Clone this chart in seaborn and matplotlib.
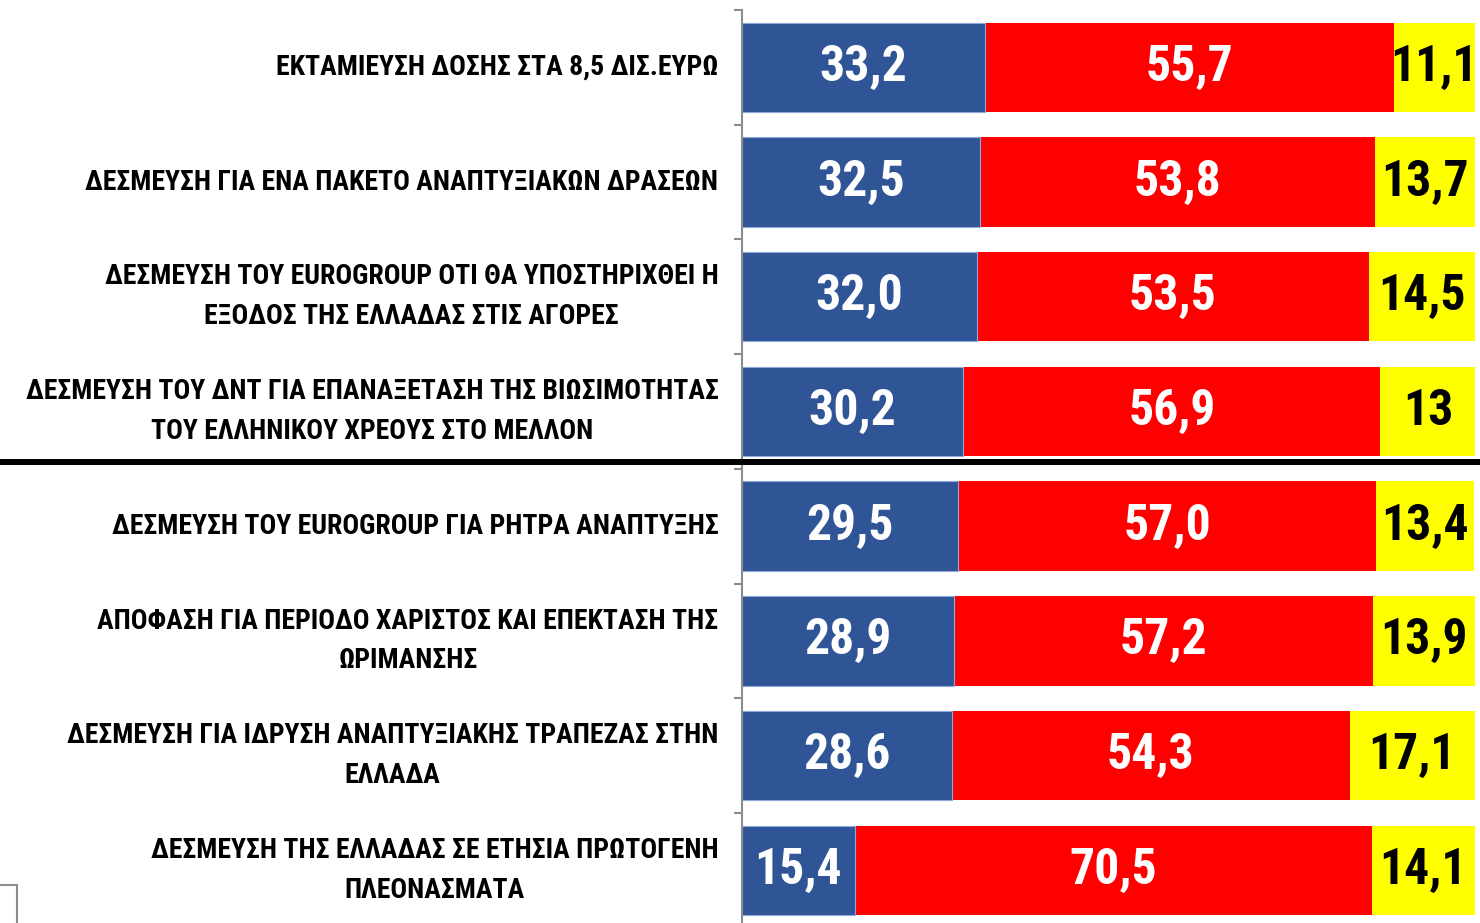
import matplotlib
matplotlib.use("Agg")
import matplotlib.pyplot as plt
import seaborn as sns
import numpy as np
from matplotlib.lines import Line2D
from matplotlib.patches import Rectangle
import matplotlib.transforms as mtransforms
from matplotlib import font_manager as fm

categories = [
    "ΕΚΤΑΜΙΕΥΣΗ ΔΟΣΗΣ ΣΤΑ 8,5 ΔΙΣ.ΕΥΡΩ",
    "ΔΕΣΜΕΥΣΗ ΓΙΑ ΕΝΑ ΠΑΚΕΤΟ ΑΝΑΠΤΥΞΙΑΚΩΝ ΔΡΑΣΕΩΝ",
    "ΔΕΣΜΕΥΣΗ ΤΟΥ EUROGROUP ΟΤΙ ΘΑ ΥΠΟΣΤΗΡΙΧΘΕΙ Η\nΕΞΟΔΟΣ ΤΗΣ ΕΛΛΑΔΑΣ ΣΤΙΣ ΑΓΟΡΕΣ",
    "ΔΕΣΜΕΥΣΗ ΤΟΥ ΔΝΤ ΓΙΑ ΕΠΑΝΑΞΕΤΑΣΗ ΤΗΣ ΒΙΩΣΙΜΟΤΗΤΑΣ\nΤΟΥ ΕΛΛΗΝΙΚΟΥ ΧΡΕΟΥΣ ΣΤΟ ΜΕΛΛΟΝ",
    "ΔΕΣΜΕΥΣΗ ΤΟΥ EUROGROUP ΓΙΑ ΡΗΤΡΑ ΑΝΑΠΤΥΞΗΣ",
    "ΑΠΟΦΑΣΗ ΓΙΑ ΠΕΡΙΟΔΟ ΧΑΡΙΣΤΟΣ ΚΑΙ ΕΠΕΚΤΑΣΗ ΤΗΣ\nΩΡΙΜΑΝΣΗΣ",
    "ΔΕΣΜΕΥΣΗ ΓΙΑ ΙΔΡΥΣΗ ΑΝΑΠΤΥΞΙΑΚΗΣ ΤΡΑΠΕΖΑΣ ΣΤΗΝ\nΕΛΛΑΔΑ",
    "ΔΕΣΜΕΥΣΗ ΤΗΣ ΕΛΛΑΔΑΣ ΣΕ ΕΤΗΣΙΑ ΠΡΩΤΟΓΕΝΗ\nΠΛΕΟΝΑΣΜΑΤΑ",
]
blue_vals = [33.2, 32.5, 32.0, 30.2, 29.5, 28.9, 28.6, 15.4]
red_vals = [55.7, 53.8, 53.5, 56.9, 57.0, 57.2, 54.3, 70.5]
yellow_vals = [11.1, 13.7, 14.5, 13, 13.4, 13.9, 17.1, 14.1]

BLUE = "#2F5597"
RED = "#FF0000"
YELLOW = "#FFFF00"

# pick the narrowest available bold sans font
names = {f.name for f in fm.fontManager.ttflist}
stretch = "normal"
FONT = None
for cand in ["Liberation Sans Narrow", "Roboto Condensed", "Open Sans Condensed",
             "Noto Sans Condensed"]:
    if cand in names:
        FONT = [cand, "DejaVu Sans"]
        break
if FONT is None:
    cond = [f for f in fm.fontManager.ttflist
            if f.name in ("DejaVu Sans", "Noto Sans", "Open Sans")
            and str(f.stretch) in ("condensed", "semi-condensed", "500", "400", "300")]
    if cond:
        FONT = [cond[0].name, "DejaVu Sans"]
        stretch = "condensed"
    else:
        FONT = ["Liberation Sans", "DejaVu Sans"]

sns.set_style("white")
plt.rcParams["font.family"] = FONT
plt.rcParams["font.stretch"] = stretch

W, H = 1480, 923
fig = plt.figure(figsize=(W / 100, H / 100), dpi=100)
top_px, cat_px = 10, 114.7
ax = fig.add_axes([742 / W, (H - top_px - 8 * cat_px) / H, 733 / W, 8 * cat_px / H])

# size text to match the reference widths
fig.canvas.draw()
rend = fig.canvas.get_renderer()
probe = fig.text(0, 0, "ΔΕΣΜΕΥΣΗ ΤΟΥ ΔΝΤ ΓΙΑ ΕΠΑΝΑΞΕΤΑΣΗ ΤΗΣ ΒΙΩΣΙΜΟΤΗΤΑΣ",
                 fontsize=20, fontweight="bold", family=FONT, stretch=stretch)
lab_fs = 20 * 703 / probe.get_window_extent(rend).width
probe.set_text("56,9")
val_fs = 20 * 88 / probe.get_window_extent(rend).width
probe.remove()
lab_fs = min(lab_fs, 20)
val_fs = min(val_fs, 40)

blue = np.array(blue_vals, dtype=float)
red = np.array(red_vals, dtype=float)
yellow = np.array(yellow_vals, dtype=float)
tot_red = blue + red
tot_all = tot_red + yellow

bw = 0.78
sns.barplot(x=tot_all, y=categories, color=YELLOW, saturation=1, width=bw,
            orient="h", ax=ax, linewidth=0)
sns.barplot(x=tot_red, y=categories, color=RED, saturation=1, width=bw,
            orient="h", ax=ax, linewidth=0)
sns.barplot(x=blue, y=categories, color=BLUE, saturation=1, width=bw,
            orient="h", ax=ax, linewidth=0.8, edgecolor="#8FAADC")

def fmt(v):
    return str(v).replace(".", ",")

kw = dict(ha="center", va="center", fontsize=val_fs, fontweight="bold",
          family=FONT, stretch=stretch)
for i in range(len(categories)):
    ax.text(blue_vals[i] / 2, i, fmt(blue_vals[i]), color="white", **kw)
    ax.text(blue[i] + red_vals[i] / 2, i, fmt(red_vals[i]), color="white", **kw)
    ax.text(tot_red[i] + yellow_vals[i] / 2, i, fmt(yellow_vals[i]), color="black", **kw)

ax.set_xlim(0, 100)
ax.set_ylim(7.5, -0.5)
ax.set_xlabel("")
ax.set_ylabel("")
ax.set_xticks([])
ax.set_yticks(range(len(categories)))
ax.set_yticklabels(categories, fontsize=lab_fs, fontweight="bold", family=FONT,
                   stretch=stretch, color="black")
for t in ax.get_yticklabels():
    t.set_multialignment("center")
    t.set_linespacing(1.6)
    t.set_va("center")
ax.set_yticks(np.arange(-0.5, len(categories), 1), minor=True)
ax.tick_params(axis="y", which="major", left=False, length=0, pad=17)
ax.tick_params(axis="y", which="minor", left=True, length=6, width=1.5,
               color="#8C8C8C", direction="out")
for s in ["top", "right", "bottom"]:
    ax.spines[s].set_visible(False)
ax.spines["left"].set_color("#8C8C8C")
ax.spines["left"].set_linewidth(1.5)

trans = mtransforms.blended_transform_factory(fig.transFigure, ax.transData)
fig.add_artist(Line2D([0, 1], [3.44, 3.44], transform=trans, color="black", lw=4.3,
                      clip_on=False))

fig.add_artist(Rectangle((-5 / W, -10 / H), 22 / W, 48 / H, transform=fig.transFigure,
                         facecolor="none", edgecolor="#8C8C8C", lw=1.5))

fig.savefig("out.png", dpi=100)
